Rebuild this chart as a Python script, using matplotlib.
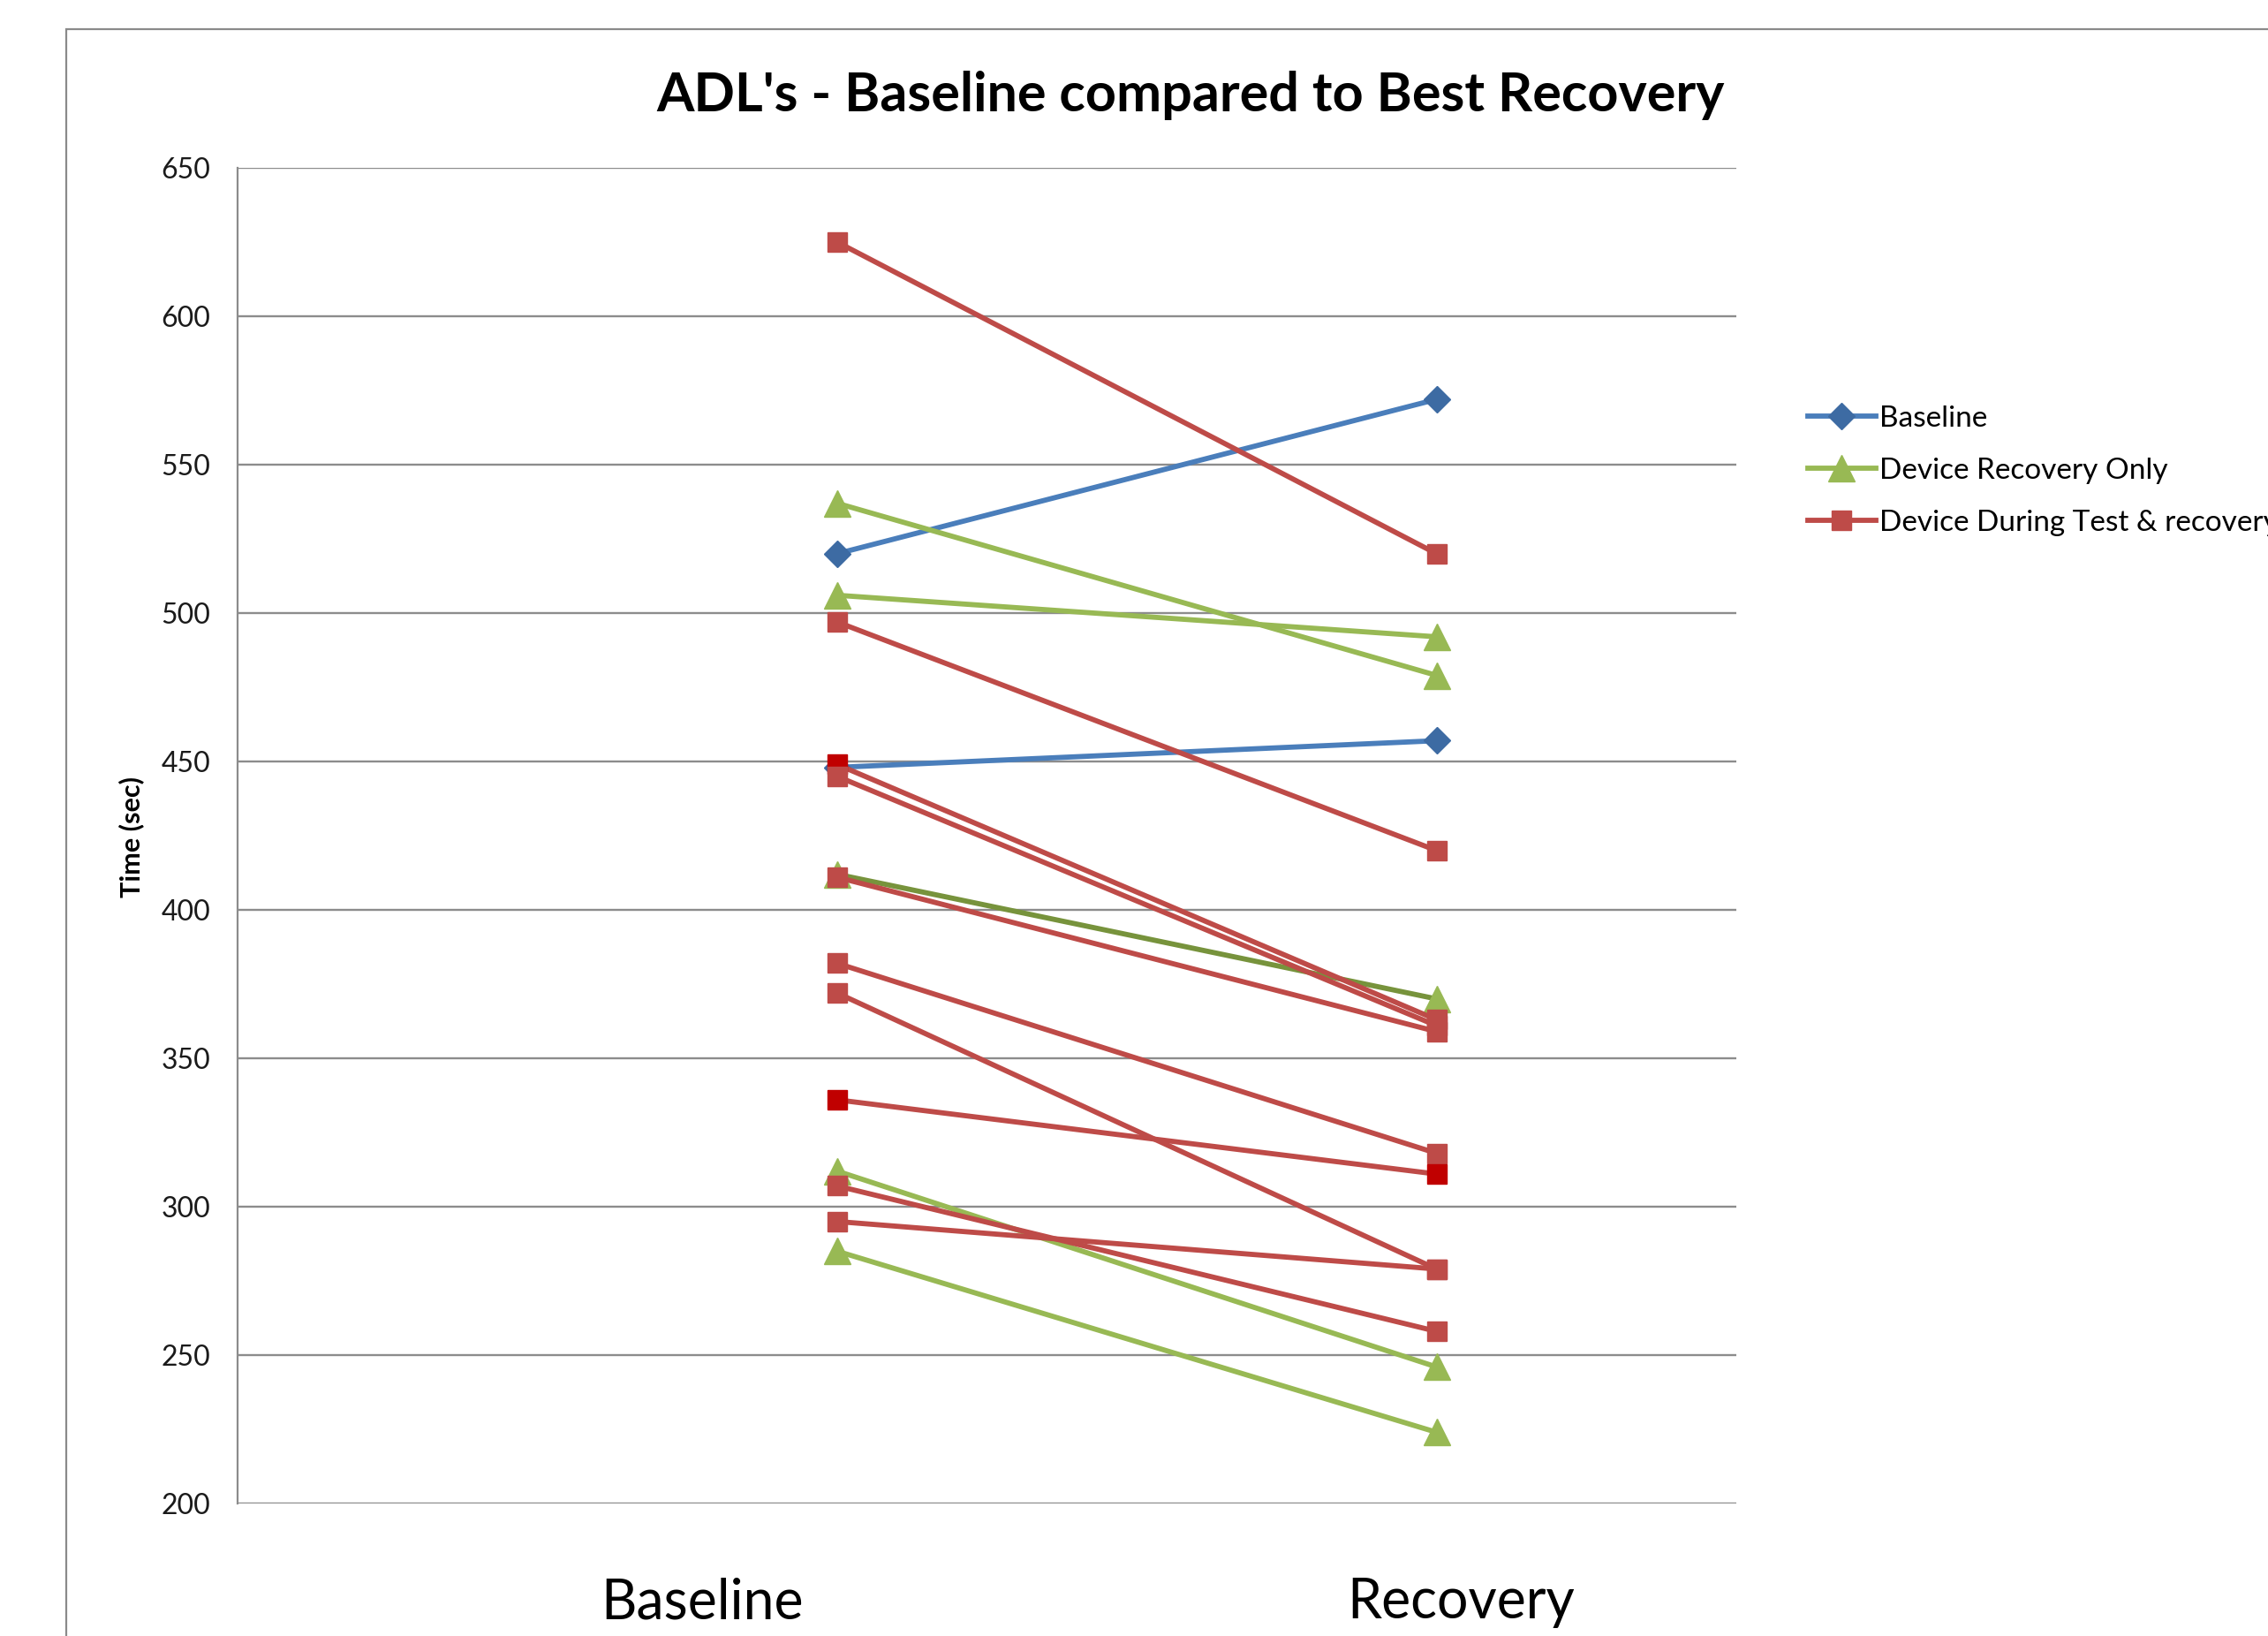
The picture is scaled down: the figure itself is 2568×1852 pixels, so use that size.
import matplotlib
matplotlib.use("Agg")
import matplotlib.pyplot as plt
from matplotlib.lines import Line2D
from matplotlib.patches import Rectangle

# ADL completion times (sec), first session vs best recovery session
baseline_pre = [520, 448]
baseline_post = [572, 457]
recovery_only_pre = [537, 506, 412, 312, 285]
recovery_only_post = [479, 492, 370, 246, 224]
during_test_pre = [625, 497, 449, 445, 411, 382, 372, 336, 307, 295]
during_test_post = [520, 420, 363, 361, 359, 318, 279, 311, 258, 279]

sessions = [2, 4]
session_names = ["Baseline", "Recovery"]
series_names = ["Baseline", "Device Recovery Only", "Device During Test & recovery"]

BLUE, BLUE_MK = "#4A7EBB", "#3D6BA3"
GREEN, GREEN_DK = "#98B954", "#77933C"
RED, RED_DK = "#BE4B48", "#C00000"
GRID = "#8C8C8C"

plt.rcParams.update({"font.family": ["Lato", "DejaVu Sans"],
                     "text.color": "black"})

fig = plt.figure(figsize=(25.68, 18.52), dpi=100)
fig.patch.set_facecolor("white")
# chart frame, runs off the right and bottom edge
fig.patches.append(Rectangle((75 / 2568, -0.1), 1.2, 1 - 33 / 1852 + 0.1,
                             transform=fig.transFigure, fill=False,
                             edgecolor="#8A8A8A", linewidth=1.6))

ax = fig.add_axes([269 / 2568, 1 - 1702 / 1852, (1966 - 269) / 2568, (1702 - 190) / 1852])
ax.set_xlim(0, 5)
ax.set_ylim(200, 650)
ax.set_yticks(range(200, 651, 50))
ax.yaxis.grid(True, color=GRID, linewidth=1.7)
ax.set_axisbelow(True)
for s in ["top", "right", "bottom"]:
    ax.spines[s].set_visible(False)
ax.spines["left"].set_color(GRID)
ax.spines["left"].set_linewidth(1.6)
ax.tick_params(axis="y", length=0, pad=22, labelsize=23, labelcolor="#1a1a1a")

lw = 4.2
sq, dia, tri = 16.5, 15, 21
for a, b in zip(baseline_pre, baseline_post):
    ax.plot(sessions, [a, b], color=BLUE, lw=lw, marker="D", ms=dia,
            mfc=BLUE_MK, mec=BLUE_MK, solid_capstyle="butt", zorder=3)

for i, (a, b) in enumerate(zip(recovery_only_pre, recovery_only_post)):
    c = GREEN_DK if i == 2 else GREEN
    ax.plot(sessions, [a, b], color=c, lw=lw, marker="^", ms=tri,
            mfc=GREEN, mec=GREEN, solid_capstyle="butt", zorder=3)

for i, (a, b) in enumerate(zip(during_test_pre, during_test_post)):
    ax.plot(sessions, [a, b], color=RED, lw=lw, solid_capstyle="butt", zorder=4)
    m1 = RED_DK if i in (2, 7) else RED
    m2 = RED_DK if i == 7 else RED
    ax.plot(sessions[0], a, ls="none", marker="s", ms=sq, mfc=m1, mec=m1, zorder=5)
    ax.plot(sessions[1], b, ls="none", marker="s", ms=sq, mfc=m2, mec=m2, zorder=5)

ax.set_xticks([1.55, 4.08])
ax.set_xticklabels(session_names, fontsize=45)
ax.tick_params(axis="x", length=0, pad=60)

fig.text(149 / 2568, 1 - 948 / 1852, "Time (sec)", rotation=90,
         ha="center", va="center", fontsize=22, fontweight="bold")
fig.text(1348 / 2568, 1 - 108 / 1852, "ADL's - Baseline compared to Best Recovery",
         ha="center", va="center", fontsize=44, fontweight="bold")

handles = [
    Line2D([], [], color=BLUE, lw=lw, marker="D", ms=dia, mfc=BLUE_MK, mec=BLUE_MK),
    Line2D([], [], color=GREEN, lw=lw, marker="^", ms=tri, mfc=GREEN, mec=GREEN),
    Line2D([], [], color=RED, lw=lw, marker="s", ms=sq, mfc=RED, mec=RED),
]
fig.legend(handles, series_names, loc="upper left",
           bbox_to_anchor=(2047 / 2568, 1 - 459 / 1852), frameon=False,
           fontsize=24, handlelength=2.3, handletextpad=0.12, labelspacing=0.87,
           borderpad=0, borderaxespad=0, numpoints=1)

fig.savefig("out.png", dpi=100, facecolor="white")
